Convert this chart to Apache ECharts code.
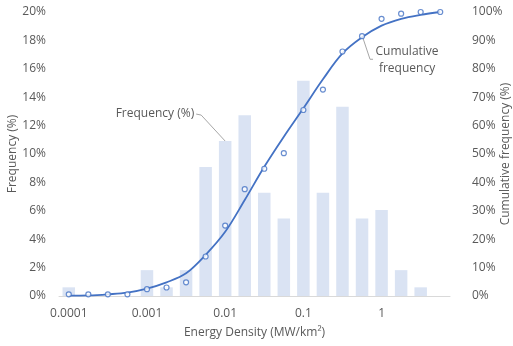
<!DOCTYPE html>
<html>
<head>
<meta charset="utf-8">
<script src="https://cdn.jsdelivr.net/npm/echarts@6/dist/echarts.min.js"></script>
<style>
html,body{margin:0;padding:0;background:#fff;}
#chart{width:513px;height:346px;}
</style>
</head>
<body>
<div id="chart"></div>
<script>
// Energy density bins (MW/km²), 4 per decade
const categories = ['0.0001','0.00018','0.00032','0.00056','0.001','0.0018','0.0032','0.0056','0.01','0.018','0.032','0.056','0.1','0.18','0.32','0.56','1','1.8','3.2','5.6'];
// Frequency (%) per bin
const frequency = [0.61,0,0,0,1.82,0.61,1.82,9.09,10.91,12.73,7.27,5.45,15.15,7.27,13.33,5.45,6.06,1.82,0.61,0];
// Cumulative frequency (%) observed points
const cumulative = [0.6,0.6,0.6,0.6,2.4,3.0,4.8,13.9,24.8,37.6,44.8,50.3,65.5,72.7,86.1,91.5,97.6,99.4,100,100];
// Fitted cumulative curve (%)
const fitted = [0.1,0.2,0.6,1.2,2.6,4.8,8.0,14.5,22.6,33.8,45.5,56.1,66.1,76.3,85.4,91.1,95.2,97.6,99.0,100];
// Tick labels shown on x axis
const xTickLabels = ['0.0001','0.001','0.01','0.1','1'];
const leftTicks = {min:0, max:20, interval:2};
const rightTicks = {min:0, max:100, interval:10};

const FONT = 'Open Sans';
const TXT = '#595959';
const chart = echarts.init(document.getElementById('chart'));
chart.setOption({
  animation:false,
  textStyle:{fontFamily:FONT},
  grid:{left:59, right:63, top:12, bottom:50, containLabel:false, outerBoundsMode:'none'},
  xAxis:{
    type:'category', data:categories, boundaryGap:true,
    axisLine:{lineStyle:{color:'#d9d9d9', width:1}},
    axisTick:{show:false},
    axisLabel:{interval:0, color:TXT, fontSize:12, margin:12, fontFamily:FONT,
      formatter:v => xTickLabels.indexOf(v) >= 0 ? v : ''},
    name:'Energy Density (MW/km²)', nameLocation:'middle', nameGap:31, nameMoveOverlap:false,
    nameTextStyle:{color:TXT, fontSize:12, fontFamily:FONT}
  },
  yAxis:[{
    type:'value', min:leftTicks.min, max:leftTicks.max, interval:leftTicks.interval,
    splitLine:{show:false}, axisLine:{show:false}, axisTick:{show:false},
    axisLabel:{formatter:'{value}%', color:TXT, fontSize:12, margin:13, fontFamily:FONT},
    name:'Frequency (%)', nameLocation:'middle', nameGap:40, nameRotate:90, nameMoveOverlap:false,
    nameTextStyle:{color:TXT, fontSize:12, fontFamily:FONT}
  },{
    type:'value', min:rightTicks.min, max:rightTicks.max, interval:rightTicks.interval,
    splitLine:{show:false}, axisLine:{show:false}, axisTick:{show:false},
    axisLabel:{formatter:'{value}%', color:TXT, fontSize:12, margin:22, fontFamily:FONT},
    name:'Cumulative frequency (%)', nameLocation:'middle', nameGap:50, nameRotate:90, nameMoveOverlap:false,
    nameTextStyle:{color:TXT, fontSize:12, fontFamily:FONT}
  }],
  series:[{
    type:'bar', data:frequency, yAxisIndex:0, barWidth:12.5,
    itemStyle:{color:'#dae3f3'}, z:1
  },{
    type:'line', data:fitted, yAxisIndex:1, smooth:0.35, showSymbol:false,
    lineStyle:{color:'#4472c4', width:1.8}, z:3
  },{
    type:'scatter', data:cumulative, yAxisIndex:1, symbol:'circle', symbolSize:5,
    itemStyle:{color:'#ffffff', borderColor:'#4472c4', borderWidth:1.2}, z:4
  }]
});

// Annotations anchored to data positions
const pBar = chart.convertToPixel({xAxisIndex:0, yAxisIndex:0}, [8, frequency[8]]);
const pCurve = chart.convertToPixel({xAxisIndex:0, yAxisIndex:1}, [15, fitted[15]]);
chart.setOption({
  graphic:[
    {type:'polyline', shape:{points:[[pBar[0]-29,pBar[1]-27],[pBar[0]-24,pBar[1]-26],[pBar[0],pBar[1]]]},
      style:{stroke:'#a6a6a6', lineWidth:1, fill:null}, silent:true},
    {type:'text', style:{text:'Frequency (%)', x:pBar[0]-31, y:pBar[1]-27, align:'right', verticalAlign:'middle',
      fill:TXT, fontSize:12, fontFamily:FONT}},
    {type:'polyline', shape:{points:[[pCurve[0]+1,pCurve[1]+1],[pCurve[0]+8,pCurve[1]+22],[pCurve[0]+11,pCurve[1]+22]]},
      style:{stroke:'#a6a6a6', lineWidth:1, fill:null}, silent:true},
    {type:'text', style:{text:'Cumulative\nfrequency', x:pCurve[0]+45, y:pCurve[1]+23, align:'center', verticalAlign:'middle',
      fill:TXT, fontSize:12, fontFamily:FONT, lineHeight:17}}
  ]
});
</script>
</body>
</html>
